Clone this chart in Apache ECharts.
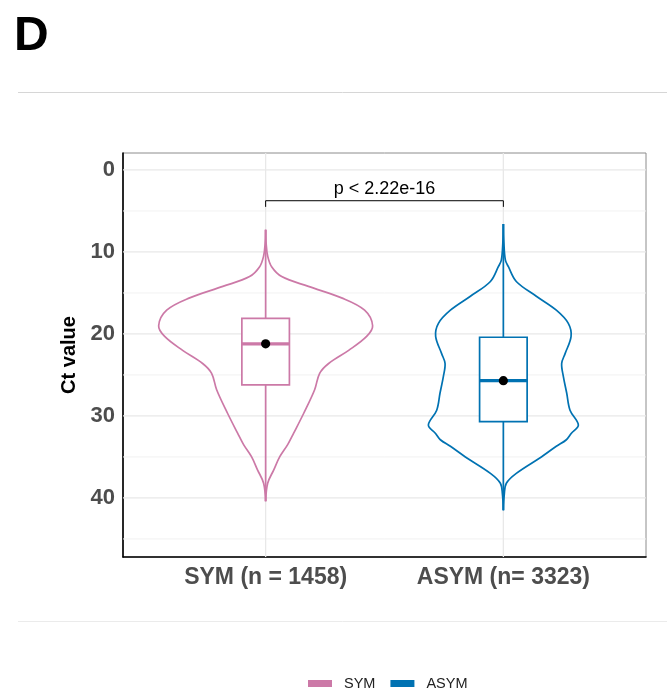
<!DOCTYPE html>
<html><head><meta charset="utf-8">
<script src="https://cdn.jsdelivr.net/npm/echarts@6/dist/echarts.min.js"></script>
<style>html,body{margin:0;padding:0;background:#fff}#c{width:667px;height:690px}</style>
</head><body><div id="c"></div>
<script>
// ---------------- data ----------------
const categories = ['SYM', 'ASYM'];
const xLabels = ['SYM (n = 1458)', 'ASYM (n= 3323)'];
const colors = ['#CC79A7', '#0072B2'];
const yTicks = [0, 10, 20, 30, 40];
const yMinor = [5, 15, 25, 35, 45];
// violin outlines: Ct values and relative density (1 = widest violin)
const symCt = [7.3, 9.0, 10.5, 11.8, 13.0, 14.2, 15.6, 17.1, 19.0, 20.3, 22.0, 23.6, 24.8, 26.8, 29.7, 32.1, 33.5, 35.0, 36.6, 38.2, 40.4];
const symDensity = [0, 0.005, 0.019, 0.056, 0.15, 0.40, 0.71, 0.925, 1.0, 0.944, 0.776, 0.589, 0.505, 0.458, 0.355, 0.262, 0.206, 0.131, 0.075, 0.019, 0];
const asymCt = [6.6, 8.9, 11.0, 11.8, 13.6, 15.4, 17.1, 18.7, 20.3, 22.4, 23.6, 25.2, 27.2, 29.3, 31.1, 32.1, 32.9, 33.7, 35.0, 37.0, 38.2, 39.5, 41.5];
const asymDensity = [0, 0.005, 0.019, 0.047, 0.121, 0.308, 0.495, 0.607, 0.633, 0.577, 0.545, 0.561, 0.592, 0.623, 0.701, 0.636, 0.589, 0.495, 0.355, 0.121, 0.028, 0.009, 0];
// box stats: [min, q1, median, q3, max]
const symBox = [7.3, 18.1, 21.2, 26.2, 40.4];
const asymBox = [6.6, 20.4, 25.7, 30.7, 41.5];
const means = [21.2, 25.7];
const pLabel = 'p < 2.22e-16';
const pBracketCt = 3.75;
const pTickCt = 4.5;

// ---------------- chart ----------------
const FONT = '"Liberation Sans", Arial, Helvetica, sans-serif';
const chart = echarts.init(document.getElementById('c'), null, {renderer: 'canvas'});
const violinCts = [symCt, asymCt];
const violinDens = [symDensity, asymDensity];
const boxes = [symBox, asymBox];
const VW = 0.45;   // half of violin max width (category units)
const BW = 0.1;    // half of box width
const LW = 1.7;

function violinRender(idx) {
  return function (params, api) {
    const x0 = idx + 1;
    const cts = violinCts[idx], ds = violinDens[idx], b = boxes[idx];
    const left = [], right = [];
    for (let i = 0; i < cts.length; i++) {
      left.push(api.coord([x0 - ds[i] * VW, cts[i]]));
      right.push(api.coord([x0 + ds[i] * VW, cts[i]]));
    }
    const col = colors[idx];
    const c = (x, y) => api.coord([x, y]);
    const bTop = c(x0 - BW, b[1]), bBot = c(x0 + BW, b[3]);
    const med = b[2];
    const children = [
      {type: 'polyline', shape: {points: left, smooth: 0.35}, style: {stroke: col, lineWidth: LW, fill: null}},
      {type: 'polyline', shape: {points: right, smooth: 0.35}, style: {stroke: col, lineWidth: LW, fill: null}},
      {type: 'line', shape: {x1: c(x0, b[0])[0], y1: c(x0, b[0])[1], x2: c(x0, b[4])[0], y2: c(x0, b[4])[1]}, style: {stroke: col, lineWidth: LW}},
      {type: 'rect', shape: {x: bTop[0], y: bTop[1], width: bBot[0] - bTop[0], height: bBot[1] - bTop[1]}, style: {stroke: col, lineWidth: LW, fill: '#fff'}},
      {type: 'line', shape: {x1: c(x0 - BW, med)[0], y1: c(x0 - BW, med)[1], x2: c(x0 + BW, med)[0], y2: c(x0 + BW, med)[1]}, style: {stroke: col, lineWidth: 3.2}},
      {type: 'circle', shape: {cx: c(x0, means[idx])[0], cy: c(x0, means[idx])[1], r: 4.6}, style: {fill: '#000'}}
    ];
    return {type: 'group', children: children};
  };
}

function bracketRender(params, api) {
  const a = api.coord([1, pBracketCt]), b = api.coord([2, pBracketCt]);
  const a2 = api.coord([1, pTickCt]), b2 = api.coord([2, pTickCt]);
  return {type: 'group', children: [
    {type: 'polyline', shape: {points: [a2, a, b, b2]}, style: {stroke: '#000', lineWidth: 1, fill: null}},
    {type: 'text', x: (a[0] + b[0]) / 2, y: a[1] - 3, style: {text: pLabel, font: '18px ' + FONT, fill: '#000', align: 'center', verticalAlign: 'bottom'}}
  ]};
}

function gridRender(params, api) {
  const ch = [];
  const xs = [0.4, 2.6], ys = [-2.07, 47.2];
  yMinor.forEach(v => {
    const p1 = api.coord([xs[0], v]), p2 = api.coord([xs[1], v]);
    ch.push({type: 'line', shape: {x1: p1[0], y1: p1[1], x2: p2[0], y2: p2[1]}, style: {stroke: '#f2f2f2', lineWidth: 1}});
  });
  yTicks.forEach(v => {
    const p1 = api.coord([xs[0], v]), p2 = api.coord([xs[1], v]);
    ch.push({type: 'line', shape: {x1: p1[0], y1: p1[1], x2: p2[0], y2: p2[1]}, style: {stroke: '#e8e8e8', lineWidth: 1.3}});
  });
  [1, 2].forEach(v => {
    const p1 = api.coord([v, ys[0]]), p2 = api.coord([v, ys[1]]);
    ch.push({type: 'line', shape: {x1: p1[0], y1: p1[1], x2: p2[0], y2: p2[1]}, style: {stroke: '#e8e8e8', lineWidth: 1.3}});
  });
  return {type: 'group', children: ch};
}

const option = {
  animation: false,
  backgroundColor: '#fff',
  textStyle: {fontFamily: FONT},
  grid: {left: 123, right: 21, top: 153, bottom: 133, show: true, borderColor: '#8c8c8c', borderWidth: 1, containLabel: false},
  xAxis: {
    type: 'value', min: 0.4, max: 2.6,
    splitLine: {show: false}, axisTick: {show: false},
    axisLine: {show: true, onZero: false, lineStyle: {color: '#000', width: 1.6}},
    axisLabel: {customValues: [1, 2], formatter: v => xLabels[Math.round(v) - 1], fontSize: 23, fontWeight: 'bold', color: '#4d4d4d', margin: 9, fontFamily: FONT}
  },
  yAxis: {
    type: 'value', inverse: true, min: -2.07, max: 47.2,
    splitLine: {show: false}, axisTick: {show: false},
    axisLine: {show: true, onZero: false, lineStyle: {color: '#000', width: 1.6}},
    axisLabel: {customValues: yTicks, fontSize: 22, fontWeight: 'bold', color: '#4d4d4d', margin: 8, fontFamily: FONT},
    name: 'Ct value', nameLocation: 'middle', nameRotate: 90, nameGap: 41,
    nameTextStyle: {fontSize: 20, fontWeight: 'bold', color: '#000', fontFamily: FONT}
  },
  legend: {
    data: categories, left: 303, top: 671, icon: 'rect', itemWidth: 24, itemHeight: 7, itemGap: 15,
    textStyle: {fontSize: 14.5, color: '#222', fontFamily: FONT, padding: [0, 0, 0, 7]}
  },
  graphic: [
    {type: 'text', left: 14, top: 13, style: {text: 'D', font: 'bold 48px ' + FONT, fill: '#000'}},
    {type: 'line', shape: {x1: 18, y1: 92.5, x2: 667, y2: 92.5}, style: {stroke: '#d6d6d6', lineWidth: 1}},
    {type: 'line', shape: {x1: 18, y1: 621.5, x2: 667, y2: 621.5}, style: {stroke: '#ebebeb', lineWidth: 1}}
  ],
  series: [
    {type: 'custom', name: 'grid', data: [[1, 20]], renderItem: gridRender, z: 1, silent: true},
    {type: 'custom', name: categories[0], itemStyle: {color: colors[0]}, data: [[1, 20]], renderItem: violinRender(0), z: 3, silent: true},
    {type: 'custom', name: categories[1], itemStyle: {color: colors[1]}, data: [[2, 25]], renderItem: violinRender(1), z: 3, silent: true},
    {type: 'custom', name: 'bracket', data: [[1.5, pBracketCt]], renderItem: bracketRender, z: 4, silent: true}
  ]
};
chart.setOption(option);
</script>
</body></html>
